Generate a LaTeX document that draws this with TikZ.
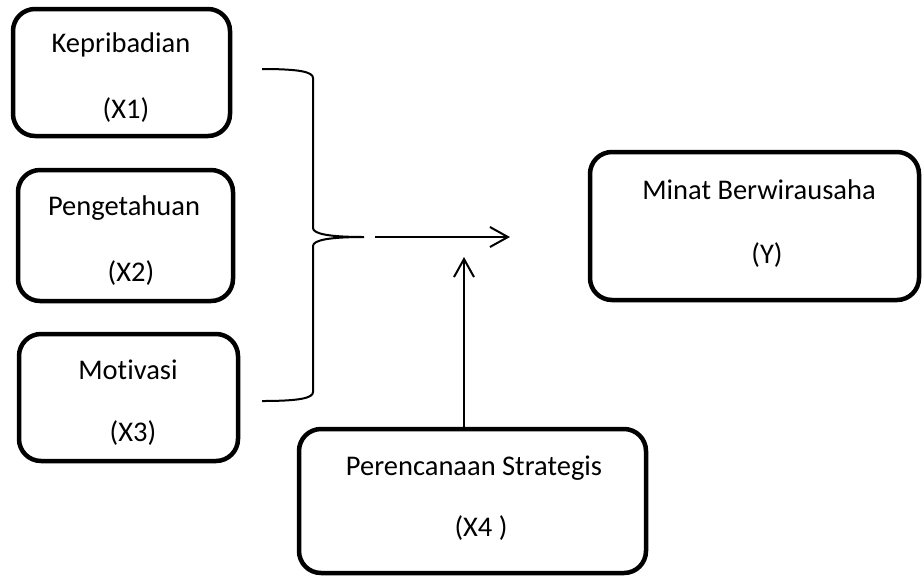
\documentclass[tikz,border=0pt]{standalone}
\usepackage{fontspec}
\setmainfont[Ligatures={NoCommon}]{Carlito}
\usetikzlibrary{arrows.meta}
\begin{document}
\begin{tikzpicture}[x=1pt,y=-1pt,
  box/.style={draw=black, line width=4.5pt, rounded corners=22pt, rectangle, inner sep=0pt},
  lbl/.style={font=\fontsize{28.5}{34}\selectfont, inner sep=0pt, anchor=center},
  conn/.style={draw=black, line width=2pt},
  arr/.style={conn, -{Straight Barb[length=18pt,width=20pt]}}]
\useasboundingbox (0,0) rectangle (923,579);
\fill[white] (0,0) rectangle (923,579);
% boxes
\node[box, minimum width=217pt, minimum height=127pt] (x1) at (121.5,72.5) {};
\node[box, minimum width=215pt, minimum height=131pt] (x2) at (125.5,235.5) {};
\node[box, minimum width=219pt, minimum height=127pt] (x3) at (128.5,397.5) {};
\node[box, minimum width=329pt, minimum height=148pt] (y) at (754.5,226) {};
\node[box, minimum width=347pt, minimum height=144pt] (x4) at (472.5,501) {};
% labels
\node[lbl] (t1a) at (121,45) {Kepribadian};
\node[lbl] (t1b) at (126,110) {(X1)};
\node[lbl] (t2a) at (124,208) {Pengetahuan};
\node[lbl] (t2b) at (131,273) {(X2)};
\node[lbl] (t3a) at (128,370) {Motivasi};
\node[lbl] (t3b) at (133,433) {(X3)};
\node[lbl] (tya) at (759,190) {Minat Berwirausaha};
\node[lbl] (tyb) at (767,255) {(Y)};
\node[lbl] (t4a) at (474,468) {Perencanaan Strategis};
\node[lbl] (t4b) at (481,528) {(X4 )};
% brace
\coordinate (btop) at (262,69);
\coordinate (btip) at (364,237);
\coordinate (bbot) at (262,401);
\draw[conn] (btop) .. controls (300,69) and (313,72) .. (313,78) -- (313,228)
  .. controls (313,234) and (330,237) .. (btip)
  .. controls (330,237) and (313,240) .. (313,246) -- (313,392)
  .. controls (313,398) and (300,401) .. (bbot);
% arrows
\coordinate (as) at (375,237);
\coordinate (ae) at (510,237);
\draw[arr] (as) -- (ae);
\coordinate (ve) at (464,257);
\draw[arr] (x4.north -| ve) -- (ve);
\end{tikzpicture}
\end{document}
